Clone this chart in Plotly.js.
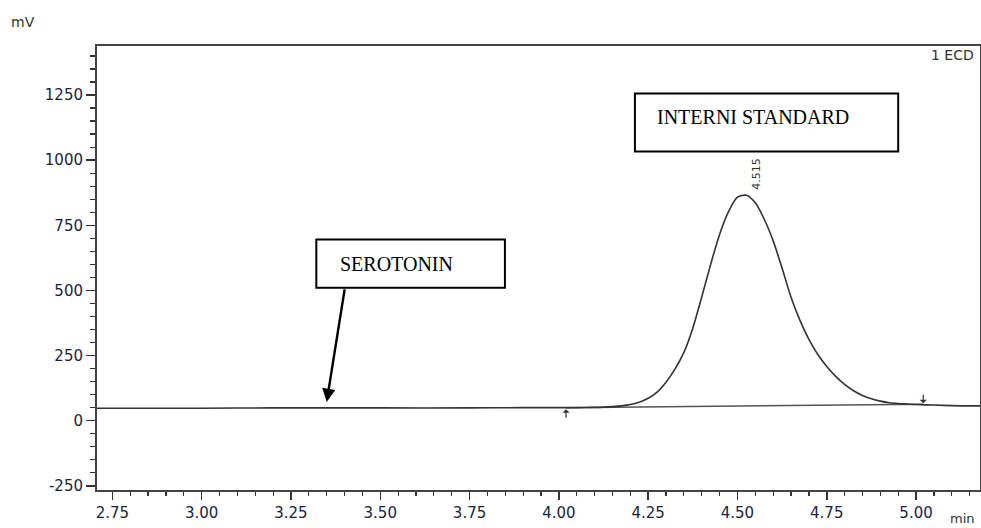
<!DOCTYPE html>
<html>
<head>
<meta charset="utf-8">
<script src="https://cdn.plot.ly/plotly-3.0.1.min.js"></script>
<style>html,body{margin:0;padding:0;background:#fff;}#chart{width:981px;height:528px;}</style>
</head>
<body>
<div id="chart"></div>
<script>
// Retention time (min) and detector signal (mV)
const timeMin = [2.70, 2.80, 3.00, 3.20, 3.35, 3.50, 3.75, 3.90, 4.00, 4.05, 4.10, 4.125, 4.15, 4.175, 4.20, 4.225, 4.25, 4.275, 4.30, 4.325, 4.35, 4.375, 4.40, 4.425, 4.45, 4.475, 4.50, 4.525, 4.55, 4.575, 4.60, 4.625, 4.65, 4.675, 4.70, 4.725, 4.75, 4.775, 4.80, 4.825, 4.85, 4.875, 4.90, 4.925, 4.95, 4.975, 5.00, 5.05, 5.10, 5.18];
const signalMv = [48, 48, 48, 49, 49, 49, 49, 50, 50, 50, 51, 52, 54, 57, 62, 71, 86, 110, 148, 198, 262, 355, 475, 600, 715, 802, 858, 865, 836, 773, 690, 585, 474, 385, 312, 254, 208, 170, 139, 115, 97, 84, 75, 69, 66, 64, 62, 60, 58, 57];

// Integration baseline of the peak (start / end markers)
const baselineTime = [4.02, 5.02];
const baselineMv = [50, 63];

// Peak label
const peakTime = [4.515];
const peakLabel = ['4.515'];

// Axis ticks
const xTickVals = [2.75, 3.00, 3.25, 3.50, 3.75, 4.00, 4.25, 4.50, 4.75, 5.00];
const xTickText = ['2.75', '3.00', '3.25', '3.50', '3.75', '4.00', '4.25', '4.50', '4.75', '5.00'];
const yTickVals = [-250, 0, 250, 500, 750, 1000, 1250];
const yTickText = ['-250', '0', '250', '500', '750', '1000', '1250'];

const ink = '#333333';
const labelColor = '#1c2340';
const sans = 'DejaVu Sans, Arial, sans-serif';
const serif = 'Liberation Serif, Times New Roman, serif';

const traces = [
  {
    x: baselineTime, y: baselineMv, type: 'scatter', mode: 'lines',
    line: {color: '#555555', width: 1.5}, hoverinfo: 'skip', showlegend: false
  },
  {
    x: timeMin, y: signalMv, type: 'scatter', mode: 'lines',
    line: {color: ink, width: 1.6, shape: 'spline', smoothing: 0.8}, showlegend: false
  }
];

const annotations = [
  {xref: 'paper', yref: 'paper', x: -0.1, y: 1.054, xanchor: 'left', yanchor: 'middle',
   text: 'mV', showarrow: false, font: {family: sans, size: 14, color: ink}},
  {xref: 'paper', yref: 'paper', x: 0.997, y: -0.064, xanchor: 'right', yanchor: 'middle',
   text: 'min', showarrow: false, font: {family: sans, size: 13, color: ink}},
  {xref: 'paper', yref: 'paper', x: 0.995, y: 0.98, xanchor: 'right', yanchor: 'middle',
   text: '1 ECD', showarrow: false, font: {family: sans, size: 14, color: ink}},
  {xref: 'x', yref: 'y', x: peakTime[0] + 0.04, y: 948, xanchor: 'center', yanchor: 'middle',
   text: peakLabel[0], textangle: -90, showarrow: false, font: {family: sans, size: 11, color: ink}},
  {xref: 'x', yref: 'y', x: 4.269, y: 1164, xanchor: 'left', yanchor: 'middle',
   text: 'INTERNI STANDARD', showarrow: false, font: {family: serif, size: 20, color: '#000'}},
  {xref: 'x', yref: 'y', x: 3.381, y: 602, xanchor: 'left', yanchor: 'middle',
   text: 'SEROTONIN', showarrow: false, font: {family: serif, size: 20, color: '#000'}},
  {xref: 'x', yref: 'y', x: 3.350, y: 72, axref: 'x', ayref: 'y', ax: 3.401, ay: 510,
   text: '', showarrow: true, arrowhead: 2, arrowsize: 1.1, arrowwidth: 2.4, arrowcolor: '#000'},
  {xref: 'x', yref: 'y', x: baselineTime[0], y: baselineMv[0] - 6, ax: 0, ay: 10,
   text: '', showarrow: true, arrowhead: 1, arrowsize: 1, arrowwidth: 1.2, arrowcolor: ink},
  {xref: 'x', yref: 'y', x: baselineTime[1], y: baselineMv[1] + 4, ax: 0, ay: -10,
   text: '', showarrow: true, arrowhead: 1, arrowsize: 1, arrowwidth: 1.2, arrowcolor: ink}
];

const shapes = [
  {type: 'rect', xref: 'x', yref: 'y', x0: 4.213, x1: 4.950, y0: 1033, y1: 1256,
   line: {color: '#000', width: 2}, fillcolor: 'rgba(0,0,0,0)'},
  {type: 'rect', xref: 'x', yref: 'y', x0: 3.321, x1: 3.849, y0: 510, y1: 695,
   line: {color: '#000', width: 2}, fillcolor: 'rgba(0,0,0,0)'}
];

const layout = {
  width: 981, height: 528,
  margin: {l: 97, r: 1, t: 46, b: 38, pad: 0},
  paper_bgcolor: '#ffffff', plot_bgcolor: '#ffffff',
  showlegend: false,
  xaxis: {
    range: [2.707, 5.179], tickmode: 'array', tickvals: xTickVals, ticktext: xTickText,
    ticks: 'outside', ticklen: 8, tickwidth: 1.5, tickcolor: ink,
    minor: {ticks: 'outside', dtick: 0.05, tick0: 2.75, ticklen: 4, tickwidth: 1.2, tickcolor: ink, showgrid: false},
    showline: true, linecolor: '#444', linewidth: 2, mirror: true,
    showgrid: false, zeroline: false,
    tickfont: {family: sans, size: 15, color: labelColor}
  },
  yaxis: {
    range: [-266, 1438], tickmode: 'array', tickvals: yTickVals, ticktext: yTickText,
    ticks: 'outside', ticklen: 9, tickwidth: 1.5, tickcolor: ink,
    minor: {ticks: 'outside', dtick: 50, tick0: 0, ticklen: 5, tickwidth: 1.2, tickcolor: ink, showgrid: false},
    showline: true, linecolor: '#444', linewidth: 2, mirror: true,
    showgrid: false, zeroline: false,
    tickfont: {family: sans, size: 15, color: labelColor}
  },
  annotations: annotations,
  shapes: shapes
};

Plotly.newPlot('chart', traces, layout, {staticPlot: true, displayModeBar: false});
</script>
</body>
</html>
